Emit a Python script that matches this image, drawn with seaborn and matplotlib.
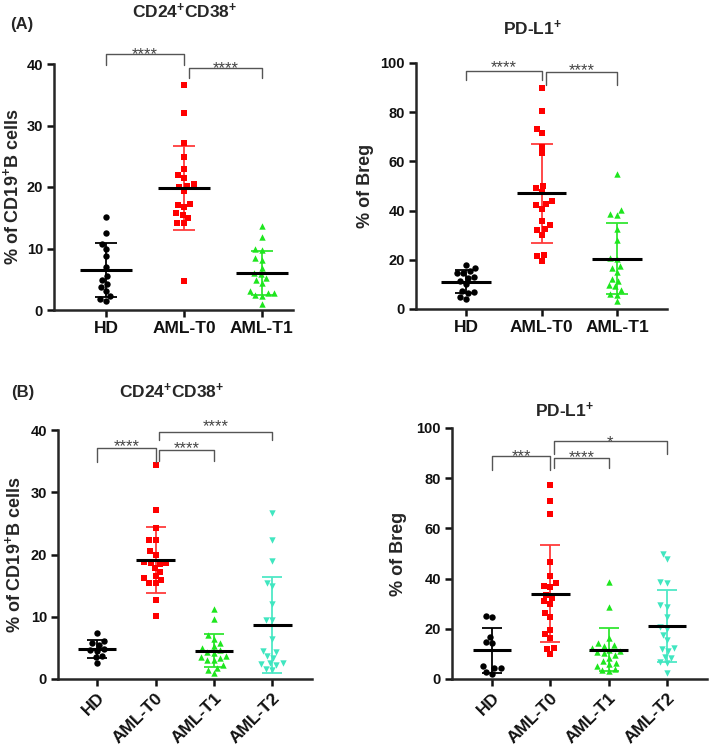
import matplotlib
matplotlib.use('Agg')
import matplotlib.pyplot as plt
import numpy as np
import pandas as pd
import seaborn as sns

# Groups
groups_a = ['HD', 'AML-T0', 'AML-T1']
groups_b = ['HD', 'AML-T0', 'AML-T1', 'AML-T2']

# (A) CD24+CD38+ (% of CD19+ B cells)
a_cd24_hd = [15.2, 12.6, 10.7, 9.9, 8.8, 7.0, 5.5, 4.9, 4.2, 3.7, 3.1, 2.2, 1.8, 1.4]
a_cd24_t0 = [36.6, 32.0, 27.1, 24.8, 22.9, 22.0, 21.5, 20.5, 20.2, 20.0, 19.3, 17.2,
             17.1, 16.8, 15.8, 15.5, 14.9, 14.2, 14.1, 4.7]
a_cd24_t1 = [13.6, 11.8, 10.0, 9.7, 8.5, 8.2, 6.9, 6.0, 5.8, 5.2, 4.9, 4.4, 3.1, 2.8,
             2.7, 2.5, 2.2, 1.0]

# (A) PD-L1+ (% of Breg)
a_pdl1_hd = [17.8, 16.8, 15.5, 14.7, 14.5, 13.0, 12.5, 11.5, 10.0, 7.5, 7.0, 6.5, 5.0, 4.0]
a_pdl1_t0 = [90.0, 80.5, 73.3, 71.5, 66.0, 63.3, 50.1, 49.2, 47.6, 43.8, 42.5, 42.1,
             40.6, 35.9, 34.0, 32.5, 32.0, 30.2, 22.1, 21.4, 19.4]
a_pdl1_t1 = [54.9, 40.4, 38.6, 38.3, 32.5, 28.2, 20.7, 20.3, 17.3, 16.7, 14.9, 12.0,
             11.5, 9.6, 9.2, 7.9, 6.1, 5.8, 3.1]

# (B) CD24+CD38+ (% of CD19+ B cells)
b_cd24_hd = [7.4, 6.1, 5.8, 5.5, 4.8, 4.6, 4.5, 3.7, 3.5, 2.5]
b_cd24_t0 = [34.3, 27.2, 24.3, 22.4, 22.4, 20.5, 20.0, 18.8, 18.7, 18.6, 18.5, 17.8,
             17.2, 16.5, 16.2, 15.9, 15.5, 15.4, 12.7, 10.1]
b_cd24_t1 = [11.2, 9.6, 7.0, 6.4, 5.8, 5.3, 4.9, 4.6, 4.4, 4.1, 3.7, 3.5, 3.3, 3.1,
             3.0, 2.2, 1.8, 1.5, 0.9]
b_cd24_t2 = [26.7, 22.3, 18.9, 15.5, 14.9, 12.0, 9.5, 9.4, 6.5, 4.5, 4.3, 3.7, 3.4,
             2.6, 2.5, 2.4, 2.3, 1.6, 1.5]

# (B) PD-L1+ (% of Breg)
b_pdl1_hd = [25.2, 24.8, 16.8, 14.7, 14.4, 5.0, 4.5, 4.3, 2.8, 1.9]
b_pdl1_t0 = [77.3, 71.0, 65.8, 46.8, 41.2, 38.2, 37.2, 36.8, 33.6, 32.3, 30.9, 29.8,
             26.2, 24.8, 19.5, 17.8, 16.5, 12.2, 12.0, 9.8]
b_pdl1_t1 = [38.5, 28.8, 16.5, 14.2, 13.5, 13.0, 12.3, 11.5, 11.0, 10.8, 10.2, 9.5,
             8.5, 7.2, 6.5, 5.8, 5.2, 4.0, 3.5, 3.0]
b_pdl1_t2 = [49.8, 47.7, 38.6, 38.4, 29.4, 28.6, 24.8, 20.6, 19.8, 17.5, 15.5, 12.4,
             12.0, 11.0, 8.9, 8.5, 6.9, 6.5, 2.3]

# Significance brackets: (group i, group j, line y, tip y, stars y, label)
br_a_cd24 = [(0, 1, 41.7, 39.9, 42.4, '****'), (1, 2, 39.3, 37.7, 40.1, '****')]
br_a_pdl1 = [(0, 1, 96.6, 93.2, 100.3, '****'), (1, 2, 96.2, 91.2, 98.9, '****')]
br_b_cd24 = [(0, 1, 37.1, 34.9, 38.2, '****'), (1, 2, 36.8, 35.1, 37.9, '****'),
             (1, 3, 39.7, 38.4, 41.4, '****')]
br_b_pdl1 = [(0, 1, 88.7, 83.4, 90.7, '***'), (1, 2, 88.0, 84.0, 90.4, '****'),
             (1, 3, 94.7, 89.6, 96.4, '*')]

colors = {'HD': '#000000', 'AML-T0': '#ff0000', 'AML-T1': '#1ee61e', 'AML-T2': '#40e6c0'}
err_colors = {'HD': '#000000', 'AML-T0': '#ff3b3b', 'AML-T1': '#33e633', 'AML-T2': '#4fe8c6'}
markers = {'HD': 'o', 'AML-T0': 's', 'AML-T1': '^', 'AML-T2': 'v'}

sns.set_style('ticks')
plt.rcParams['font.family'] = ['Liberation Sans', 'DejaVu Sans']
plt.rcParams['font.weight'] = 'bold'
plt.rcParams['mathtext.fontset'] = 'custom'
plt.rcParams['mathtext.rm'] = 'Liberation Sans:bold'
plt.rcParams['mathtext.bf'] = 'Liberation Sans:bold'
plt.rcParams['mathtext.it'] = 'Liberation Sans:bold'

W, H = 709, 748
fig = plt.figure(figsize=(W / 100, H / 100), dpi=100)


def px_axes(left, top, right, bottom):
    return fig.add_axes([left / W, 1 - bottom / H, (right - left) / W, (bottom - top) / H])


def draw_panel(ax, groups, series, ymax, ystep, xlim, ylabel, label_x, brackets,
               rotate, capsize):
    df = pd.concat([pd.DataFrame({'group': g, 'value': v}) for g, v in zip(groups, series)],
                   ignore_index=True)
    for g in groups:
        sns.swarmplot(data=df[df['group'] == g], x='group', y='value', order=groups,
                      color=colors[g], marker=markers[g], size=4.6, linewidth=0,
                      ax=ax, zorder=3)
    stats = df.groupby('group')['value'].agg(['mean', 'std']).reindex(groups)
    for i, g in enumerate(groups):
        m, s = stats.loc[g, 'mean'], stats.loc[g, 'std']
        ax.errorbar(i, m, yerr=s, color=err_colors[g], capsize=capsize, lw=1.3,
                    capthick=1.3, zorder=2)
        ax.hlines(m, i - 0.33, i + 0.33, color='black', lw=2.2, zorder=4)

    for (i, j, yl, yt, ys, lab) in brackets:
        xi = i + (0.06 if i == 1 else 0)
        xj = j
        ax.plot([xi, xi, xj, xj], [yt, yl, yl, yt], color='#555555', lw=1.0,
                clip_on=False, zorder=5)
        ax.annotate(lab, ((xi + xj) / 2, ys), xytext=(0, -3.7), textcoords='offset points',
                    ha='center', va='center', fontsize=12, color='#444444',
                    fontweight='normal', annotation_clip=False)

    ax.set_xlim(*xlim)
    ax.set_ylim(0, ymax)
    ax.set_yticks(np.arange(0, ymax + 1, ystep))
    ax.set_xlabel('')
    ax.set_ylabel(ylabel, fontsize=13, fontweight='bold')
    ax.yaxis.set_label_coords(label_x, 0.5)
    sns.despine(ax=ax)
    for sp in ['left', 'bottom']:
        ax.spines[sp].set_linewidth(1.8)
    ax.tick_params(width=1.8, length=5, pad=3, colors='#111111')
    ax.tick_params(axis='y', labelsize=10.5)
    ax.tick_params(axis='x', labelsize=12.5)
    for t in ax.get_xticklabels() + ax.get_yticklabels():
        t.set_fontweight('bold')
    if rotate:
        for t in ax.get_xticklabels():
            t.set_rotation(45)
            t.set_ha('right')
            t.set_rotation_mode('anchor')


ylab_cd19 = '% of CD19$^{+}$B cells'
ylab_breg = '% of Breg'

ax1 = px_axes(54, 64, 293, 310)
draw_panel(ax1, groups_a, [a_cd24_hd, a_cd24_t0, a_cd24_t1], 40, 10, (-0.67, 2.4),
           ylab_cd19, -0.134, br_a_cd24, False, 8)

ax2 = px_axes(416, 63, 667, 309)
draw_panel(ax2, groups_a, [a_pdl1_hd, a_pdl1_t0, a_pdl1_t1], 100, 20, (-0.66, 2.66),
           ylab_breg, -0.167, br_a_pdl1, False, 8)

ax3 = px_axes(58, 430, 312, 679)
draw_panel(ax3, groups_b, [b_cd24_hd, b_cd24_t0, b_cd24_t1, b_cd24_t2], 40, 10,
           (-0.67, 3.68), ylab_cd19, -0.134, br_b_cd24, True, 7)

ax4 = px_axes(452, 428, 707, 679)
draw_panel(ax4, groups_b, [b_pdl1_hd, b_pdl1_t0, b_pdl1_t1, b_pdl1_t2], 100, 20,
           (-0.69, 3.69), ylab_breg, -0.176, br_b_pdl1, True, 7)

# Panel titles
title_cd24 = 'CD24$^{+}$CD38$^{+}$'
title_pdl1 = 'PD-L1$^{+}$'
fig.text(22 / W, 1 - 25 / H, '(A)', ha='center', va='center', fontsize=12, fontweight='bold')
fig.text(185 / W, 1 - 11 / H, title_cd24, ha='center', va='center', fontsize=12.5, fontweight='bold')
fig.text(532 / W, 1 - 28 / H, title_pdl1, ha='center', va='center', fontsize=12.5, fontweight='bold')
fig.text(23 / W, 1 - 393 / H, '(B)', ha='center', va='center', fontsize=12, fontweight='bold')
fig.text(172 / W, 1 - 391 / H, title_cd24, ha='center', va='center', fontsize=12.5, fontweight='bold')
fig.text(564 / W, 1 - 410 / H, title_pdl1, ha='center', va='center', fontsize=12.5, fontweight='bold')

fig.savefig('out.png', dpi=100, facecolor='white')
